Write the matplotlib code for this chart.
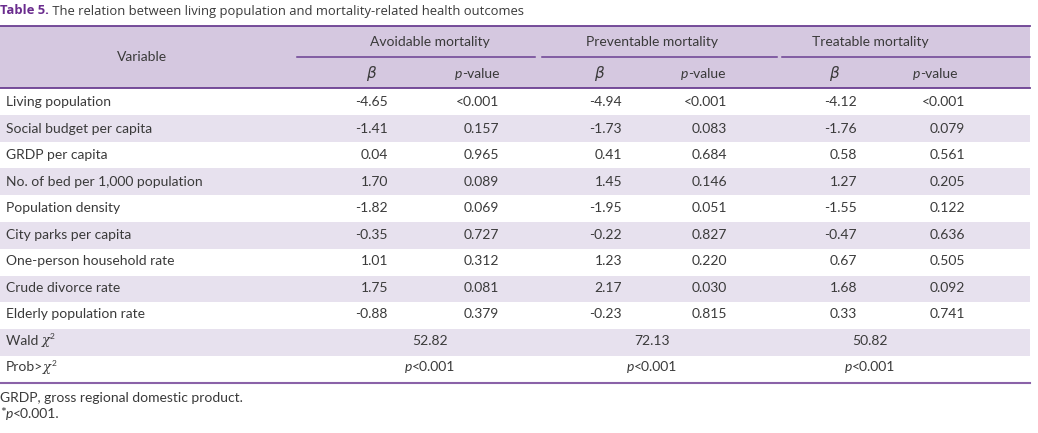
import matplotlib.pyplot as plt
from matplotlib.patches import Rectangle

# Dữ liệu bảng
variables = ['Living population', 'Social budget per capita', 'GRDP per capita',
             'No. of bed per 1,000 population', 'Population density',
             'City parks per capita', 'One-person household rate',
             'Crude divorce rate', 'Elderly population rate']
beta_avoid = ['-4.65', '-1.41', '0.04', '1.70', '-1.82', '-0.35', '1.01', '1.75', '-0.88']
p_avoid = ['<0.001', '0.157', '0.965', '0.089', '0.069', '0.727', '0.312', '0.081', '0.379']
beta_prev = ['-4.94', '-1.73', '0.41', '1.45', '-1.95', '-0.22', '1.23', '2.17', '-0.23']
p_prev = ['<0.001', '0.083', '0.684', '0.146', '0.051', '0.827', '0.220', '0.030', '0.815']
beta_treat = ['-4.12', '-1.76', '0.58', '1.27', '-1.55', '-0.47', '0.67', '1.68', '0.33']
p_treat = ['<0.001', '0.079', '0.561', '0.205', '0.122', '0.636', '0.505', '0.092', '0.741']
groups = ['Avoidable mortality', 'Preventable mortality', 'Treatable mortality']
wald = ['52.82', '72.13', '50.82']

# Màu sắc và phông chữ
HEADER_BG = '#d5c8e0'
SHADE_BG = '#e7e1ee'
LINE_C = '#8a62a8'
DARK_LINE = '#6b3f92'
TEXT_C = '#3a3a3a'
TITLE_C = '#6a2c8e'
FONT = ['Lato', 'DejaVu Sans']
FS = 10

W, H = 1038, 433
fig = plt.figure(figsize=(W / 100, H / 100), dpi=100)
ax = fig.add_axes([0, 0, 1, 1])
ax.set_xlim(0, W)
ax.set_ylim(H, 0)
ax.axis('off')
renderer = fig.canvas.get_renderer()


def runs(x, y, parts, ha='left'):
    # vẽ nhiều đoạn chữ nối tiếp nhau, mỗi đoạn có kiểu riêng
    objs = []
    for txt, kw in parts:
        opts = dict(fontsize=FS, color=TEXT_C, family=FONT, va='center', ha='left')
        opts.update(kw)
        dy = opts.pop('dy', 0)
        objs.append((ax.text(0, y + dy, txt, **opts), opts.get('gap', 0)))
    widths = [t.get_window_extent(renderer).width for t, _ in objs]
    total = sum(widths)
    start = x - total / 2 if ha == 'center' else (x - total if ha == 'right' else x)
    for (t, _), w in zip(objs, widths):
        t.set_x(start)
        start += w


# Vị trí cột
left, right = 0, 1030
top, mid, head_bot = 26, 57, 88
row_h = 26.8
beta_x = [388, 622, 857]       # căn phải
p_x = [499, 727, 965]          # căn phải
beta_hx = [372, 600, 835]
p_hx = [477, 703, 935]
group_cx = [430, 652, 870]
span = [(297, 535), (542, 777), (782, 1030)]

# Tiêu đề
runs(0, 11, [('Table 5.', dict(fontweight='bold', color=TITLE_C, family='Open Sans', fontsize=9.4)),
             (' The relation between living population and mortality-related health outcomes',
              dict(family='Open Sans', fontsize=9.4))])

# Nền tiêu đề bảng
ax.add_patch(Rectangle((left, top), right - left, head_bot - top, color=HEADER_BG, lw=0))
ax.plot([left, right], [top, top], color=DARK_LINE, lw=1.3)
ax.plot([left, right], [head_bot, head_bot], color=DARK_LINE, lw=1.3)
for x0, x1 in span:
    ax.plot([x0, x1], [mid, mid], color=DARK_LINE, lw=1.1)

ax.text(142, (top + head_bot) / 2, 'Variable', fontsize=FS, color=TEXT_C, family=FONT,
        ha='center', va='center')
for i, g in enumerate(groups):
    ax.text(group_cx[i], (top + mid) / 2 + 1, g, fontsize=FS, color=TEXT_C, family=FONT,
            ha='center', va='center')
    ax.text(beta_hx[i], (mid + head_bot) / 2 + 1, r'$\beta$', fontsize=FS + 1, color=TEXT_C,
            ha='center', va='center')
    runs(p_hx[i], (mid + head_bot) / 2 + 1,
         [('p', dict(style='italic')), ('-value', {})], ha='center')

# Các hàng dữ liệu
cols = [(beta_avoid, p_avoid), (beta_prev, p_prev), (beta_treat, p_treat)]
n_rows = len(variables) + 2
for r in range(n_rows):
    y0 = head_bot + r * row_h
    yc = y0 + row_h / 2 + 1 - r * 0.3
    if r % 2 == 1:
        ax.add_patch(Rectangle((left, y0), right - left, row_h, color=SHADE_BG, lw=0))
    if r < len(variables):
        ax.text(6, yc, variables[r], fontsize=FS, color=TEXT_C, family=FONT,
                ha='left', va='center')
        for i, (b, p) in enumerate(cols):
            ax.text(beta_x[i], yc, b[r], fontsize=FS, color=TEXT_C, family=FONT,
                    ha='right', va='center')
            ax.text(p_x[i], yc, p[r], fontsize=FS, color=TEXT_C, family=FONT,
                    ha='right', va='center')
    elif r == len(variables):
        runs(6, yc, [('Wald ', {}), ('χ', dict(family=['DejaVu Serif'], style='italic', fontsize=9.5)),
                     ('2', dict(fontsize=6, dy=-4))])
        for i, w in enumerate(wald):
            ax.text(group_cx[i], yc, w, fontsize=FS, color=TEXT_C, family=FONT,
                    ha='center', va='center')
    else:
        runs(6, yc, [('Prob>', {}), ('χ', dict(family=['DejaVu Serif'], style='italic', fontsize=9.5)),
                     ('2', dict(fontsize=6, dy=-4))])
        for i in range(3):
            runs(group_cx[i], yc, [('p', dict(style='italic')), ('<0.001', {})], ha='center')

bottom = head_bot + n_rows * row_h
ax.plot([left, right], [bottom, bottom], color=LINE_C, lw=1.5)

# Chú thích
ax.text(0, bottom + 15, 'GRDP, gross regional domestic product.', fontsize=FS,
        color=TEXT_C, family=FONT, ha='left', va='center')
runs(0, bottom + 31, [('*', dict(dy=-1)), ('p', dict(style='italic')), ('<0.001.', {})])

fig.savefig('out.png', dpi=100)
